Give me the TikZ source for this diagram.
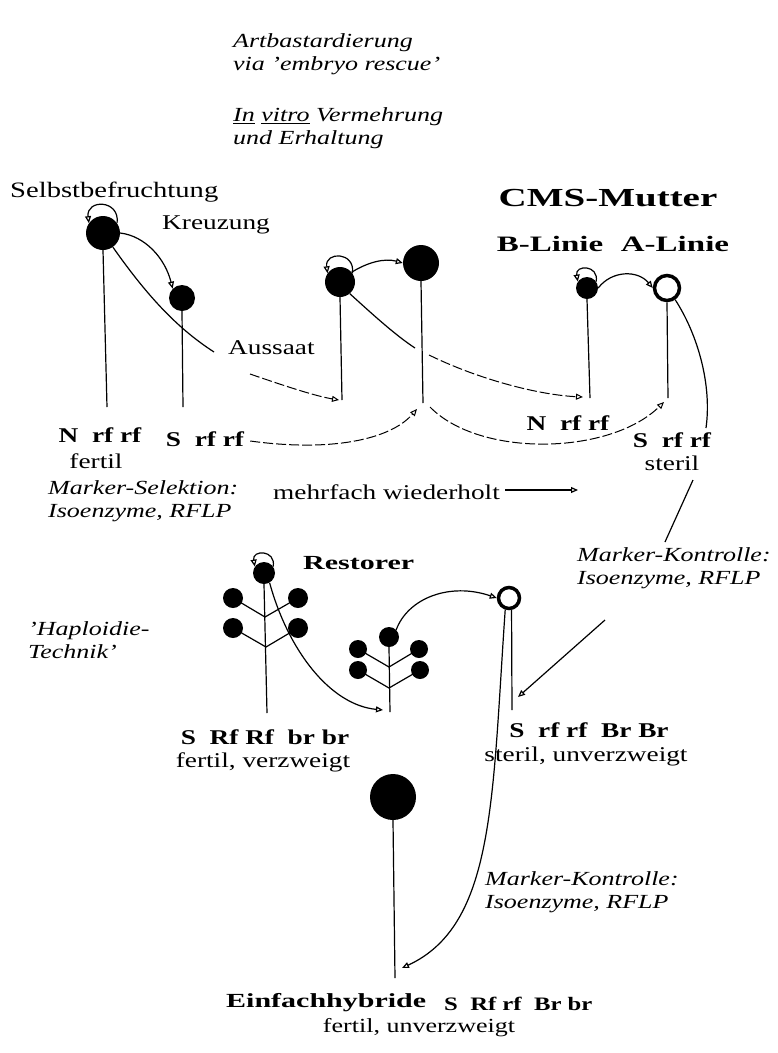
\documentclass[tikz,border=0pt]{standalone}
\usepackage{fontspec}
\setmainfont[FakeStretch=1.3]{Liberation Serif}
\newfontfamily\hdfont[FakeStretch=1.5]{Liberation Serif}
\usetikzlibrary{arrows.meta,calc}
\begin{document}
\begin{tikzpicture}[x=1pt,y=-1pt,
  arr/.style={-{Triangle[open,length=7pt,width=6pt]}},
  ln/.style={line width=1.2pt},
  dsh/.style={line width=1pt,dash pattern=on 10pt off 3pt},
  fc/.style={circle,fill=black,inner sep=0pt},
  oc/.style={circle,draw=black,line width=3.5pt,fill=white,inner sep=0pt},
  reg/.style={font=\fontsize{21}{24}\selectfont,inner sep=0pt,align=center},
  itx/.style={font=\fontsize{20}{23}\selectfont\itshape,inner sep=0pt,align=left},
  gen/.style={font=\fontsize{21}{24}\selectfont\bfseries,inner sep=0pt},
  hd/.style={font=\hdfont\fontsize{22}{26}\selectfont\bfseries,inner sep=0pt},
]
\useasboundingbox (0,0) rectangle (778,1053);
\newcommand\selfloop[2]{\draw[ln,arr] (#1.35) .. controls +(3,-#2) and +(-3,-#2) .. (#1.145);}

% ---------- texts ----------
\node[itx,anchor=west] (t1) at (233,54) {Artbastardierung\\via 'embryo rescue'};
\node[itx,anchor=west] (t2) at (233,128) {\underline{In} \underline{vitro} Vermehrung\\und Erhaltung};
\node[reg,anchor=west,font=\fontsize{22}{24}\selectfont] (selbst) at (10,192) {Selbstbefruchtung};
\node[hd,anchor=center,font=\hdfont\fontsize{26}{30}\selectfont\bfseries] (cms) at (608,198) {CMS-Mutter};
\node[reg,anchor=west] (kreuz) at (162,225) {Kreuzung};
\node[reg,anchor=west] (aussaat) at (228,348) {Aussaat};
\node[hd] (bl) at (550,244) {B-Linie};
\node[hd] (al) at (675,244) {A-Linie};
\node[gen] (g1) at (100,435) {N\ \ rf rf};
\node[reg] (f1) at (96,461) {fertil};
\node[gen] (g2) at (205,439) {S\ \ rf rf};
\node[itx,anchor=west] (ms) at (48,501) {Marker-Selektion:\\Isoenzyme, RFLP};
\node[reg,anchor=west] (mw) at (273,492) {mehrfach wiederholt};
\node[gen] (gB) at (568,423) {N\ \ rf rf};
\node[gen] (gA) at (672,440) {S\ \ rf rf};
\node[reg] (st) at (672,463) {steril};
\node[itx,anchor=west] (mk1) at (577,568) {Marker-Kontrolle:\\Isoenzyme, RFLP};
\node[itx,anchor=west] (hap) at (28,640) {'Haploidie-\\Technik'};
\node[hd,anchor=west,font=\hdfont\fontsize{20}{24}\selectfont\bfseries] (rest) at (303,563) {Restorer};
\node[gen] (gR) at (265,737) {S\ \ Rf Rf\ \ br br};
\node[reg] (fR) at (263,762) {fertil, verzweigt};
\node[gen] (gS) at (589,730) {S\ \ rf rf\ \ Br Br};
\node[reg] (fS) at (586,756) {steril, unverzweigt};
\node[itx,anchor=west] (mk2) at (485,892) {Marker-Kontrolle:\\Isoenzyme, RFLP};
\node[hd,anchor=west,font=\hdfont\fontsize{20}{24}\selectfont\bfseries] (eh) at (226,1003) {Einfachhybride};
\node[gen,anchor=west,font=\fontsize{19}{24}\selectfont\bfseries] (gE) at (444,1004) {S\ \ Rf rf\ \ Br br};
\node[reg,font=\fontsize{20}{24}\selectfont] (fE) at (419,1028) {fertil, unverzweigt};

% ---------- plants top row ----------
\node[fc,minimum size=34pt] (c1) at (103,233) {};
\node[fc,minimum size=26pt] (c2) at (182,298) {};
\node[fc,minimum size=30pt] (c3) at (340,282) {};
\node[fc,minimum size=36pt] (c4) at (421,263) {};
\node[fc,minimum size=22pt] (cB) at (587,288) {};
\node[oc,minimum size=25pt] (cA) at (667,288) {};
\coordinate (s1) at (107,407);
\coordinate (s2) at (183,407);
\coordinate (s3) at (342,400);
\coordinate (s4) at (423,403);
\coordinate (sB) at (590,398);
\coordinate (sA) at (668,398);
\draw[ln] (c1.south) -- (s1);
\draw[ln] (c2.south) -- (s2);
\draw[ln] (c3.south) -- (s3);
\draw[ln] (c4.south) -- (s4);
\draw[ln] (cB.south) -- (sB);
\draw[ln] (cA.south) -- (sA);
\selfloop{c1}{24}
\selfloop{c3}{22}
\selfloop{cB}{17}
\draw[ln,arr] (c1.east) .. controls (145,236) and (165,258) .. (c2.north west);
\draw[ln,arr] (c3.40) .. controls (368,262) and (385,258) .. (c4.west);
\draw[ln,arr] (cB.east) .. controls (612,270) and (638,270) .. (cA.west);

% Aussaat
\coordinate (au1) at (214,352);
\coordinate (au2) at (250,374);
\draw[ln] (c1.-55) .. controls (150,300) and (180,330) .. (au1);
\draw[ln,dsh,arr] (au2) .. controls (285,386) and (315,396) .. (339,400);
% S rf rf -> s4
\coordinate (e4) at (417,409);
\draw[ln,dsh,arr] (g2.east) ++(6,2) .. controls (330,452) and (390,440) .. (e4);
% c3 -> B line
\coordinate (b1) at (415,348);
\coordinate (b2) at (429,355);
\coordinate (eB) at (583,397);
\draw[ln] (c3.-50) .. controls (370,312) and (395,335) .. (b1);
\draw[ln,dsh,arr] (b2) .. controls (480,380) and (540,395) .. (eB);
% s4 -> A line
\coordinate (a0) at (430,407);
\coordinate (eA) at (664,402);
\draw[ln,dsh,arr] (a0) .. controls (480,458) and (610,455) .. (eA);
% A -> Marker-Kontrolle
\coordinate (ak1) at (706,428);
\coordinate (ak2) at (693,480);
\coordinate (ak3) at (665,542);
\draw[ln] (cA.-55) .. controls (698,335) and (712,385) .. (ak1);
\draw[ln] (ak2) -- (ak3);
% mehrfach wiederholt arrow
\coordinate (mwe) at (578,490);
\draw[ln,arr] (mw.east) ++(5,-2) -- (mwe);

% ---------- restorer plants ----------
\node[fc,minimum size=22pt] (p1t) at (264,573) {};
\coordinate (p1b) at (267,713);
\coordinate (j1a) at (265,617);
\coordinate (j1b) at (266,647);
\draw[ln] (p1t.south) -- (p1b);
\node[fc,minimum size=20pt] (p1a) at (233,598) {};
\node[fc,minimum size=20pt] (p1c) at (298,598) {};
\node[fc,minimum size=20pt] (p1d) at (233,628) {};
\node[fc,minimum size=20pt] (p1e) at (298,628) {};
\draw[ln] (p1a.center) -- (j1a) -- (p1c.center);
\draw[ln] (p1d.center) -- (j1b) -- (p1e.center);
\selfloop{p1t}{17}

\node[fc,minimum size=20pt] (p2t) at (389,637) {};
\coordinate (p2b) at (390,712);
\coordinate (j2a) at (389,667);
\coordinate (j2b) at (389,688);
\draw[ln] (p2t.south) -- (p2b);
\node[fc,minimum size=18pt] (p2a) at (358,649) {};
\node[fc,minimum size=18pt] (p2c) at (419,649) {};
\node[fc,minimum size=18pt] (p2d) at (358,670) {};
\node[fc,minimum size=18pt] (p2e) at (420,670) {};
\draw[ln] (p2a.center) -- (j2a) -- (p2c.center);
\draw[ln] (p2d.center) -- (j2b) -- (p2e.center);

\node[oc,minimum size=21pt] (rO) at (509,598) {};
\coordinate (rb) at (512,710);
\draw[ln] (rO.-78) -- (rb);

\coordinate (e2) at (383,710);
\draw[ln,arr] (p1t.-60) .. controls (288,650) and (330,705) .. (e2);
\draw[ln,arr] (p2t.north east) .. controls (408,598) and (450,582) .. (rO.west);

% Marker-Kontrolle -> restored stem
\coordinate (mk1s) at (605,620);
\coordinate (mk1e) at (518,697);
\draw[ln,arr] (mk1s) -- (mk1e);

% ---------- hybrid ----------
\node[fc,minimum size=46pt] (big) at (393,797) {};
\coordinate (bigb) at (395,978);
\draw[ln] (big.south) -- (bigb);
\coordinate (he) at (402,968);
\draw[ln,arr] (rO.-108) .. controls (492,800) and (495,925) .. (he);
\end{tikzpicture}
\end{document}
